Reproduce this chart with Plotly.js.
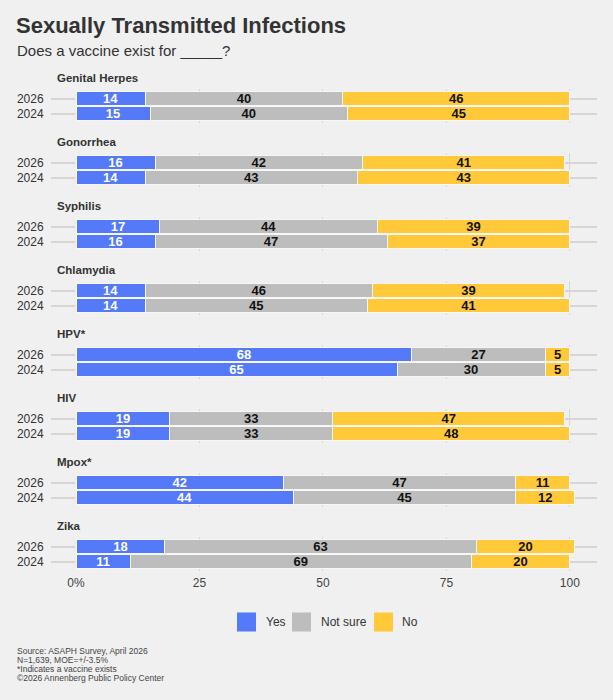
<!DOCTYPE html>
<html>
<head>
<meta charset="utf-8">
<script src="https://cdn.plot.ly/plotly-3.0.1.min.js"></script>
<style>
  html, body { margin: 0; padding: 0; background: #f0f0f0; }
  #chart { width: 613px; height: 700px; }
</style>
</head>
<body>
<div id="chart"></div>
<script>
// Survey answers, percent of respondents
const diseases = ['Genital Herpes', 'Gonorrhea', 'Syphilis', 'Chlamydia', 'HPV*', 'HIV', 'Mpox*', 'Zika'];
const years = ['2024', '2026'];
const yes2026      = [14, 16, 17, 14, 68, 19, 42, 18];
const notSure2026  = [40, 42, 44, 46, 27, 33, 47, 63];
const no2026       = [46, 41, 39, 39,  5, 47, 11, 20];
const yes2024      = [15, 14, 16, 14, 65, 19, 44, 11];
const notSure2024  = [40, 43, 47, 45, 30, 33, 45, 69];
const no2024       = [45, 43, 37, 41,  5, 48, 12, 20];
const seriesNames = ['Yes', 'Not sure', 'No'];
const xTickVals = [0, 25, 50, 75, 100];
const xTickText = ['0%', '25', '50', '75', '100'];
const chartTitle = 'Sexually Transmitted Infections';
const chartSubtitle = 'Does a vaccine exist for _____?';
const footnotes = [
  'Source: ASAPH Survey, April 2026',
  'N=1,639, MOE=+/-3.5%',
  '*Indicates a vaccine exists',
  '\u00A92026 Annenberg Public Policy Center'
];

// Styling
const W = 613, H = 700;
const M = { l: 76, r: 16, t: 0, b: 0 };
const plotW = W - M.l - M.r;
const FONT = 'Liberation Sans, Arial, Helvetica, sans-serif';
const colors = ['#5479f9', '#bdbdbd', '#ffc93a'];
const textColors = ['#ffffff', '#111111', '#111111'];
const gridColor = '#d6d6d6';
const ink = '#333333';

const px2x = p => (p - M.l) / plotW;   // pixel -> paper x
const px2y = p => 1 - p / H;           // pixel -> paper y

const series2026 = [yes2026, notSure2026, no2026];
const series2024 = [yes2024, notSure2024, no2024];

// Each disease gets its own small panel sharing the x axis
const firstCenter = 106, step = 64, halfPanel = 17.25;
const traces = [];
const layout = {
  width: W, height: H, autosize: false,
  margin: M,
  paper_bgcolor: '#f0f0f0', plot_bgcolor: '#f0f0f0',
  barmode: 'stack',
  showlegend: false,
  font: { family: FONT, color: ink },
  title: {
    text: chartTitle,
    font: { family: FONT, size: 22, weight: 'bold', color: ink },
    xref: 'container', x: 16 / W, xanchor: 'left',
    yref: 'container', y: 1 - 25 / H, yanchor: 'middle'
  },
  xaxis: {
    domain: [0, 1], range: [0, 105.5], anchor: 'y8',
    tickvals: xTickVals, ticktext: xTickText,
    showgrid: true, gridcolor: gridColor, gridwidth: 1,
    zeroline: false, showline: false, ticks: '',
    ticklabelstandoff: 3,
    tickfont: { size: 12, color: '#444' },
    fixedrange: true
  },
  annotations: [],
  shapes: []
};

diseases.forEach((name, i) => {
  const suffix = i === 0 ? '' : String(i + 1);
  const c = firstCenter + step * i;
  layout['yaxis' + suffix] = {
    domain: [px2y(c + halfPanel), px2y(c - halfPanel)],
    anchor: 'x',
    type: 'category', categoryorder: 'array', categoryarray: years,
    range: [-0.65, 1.65],
    showgrid: true, gridcolor: gridColor, gridwidth: 1.5,
    ticks: 'outside', ticklen: 24, tickcolor: gridColor, tickwidth: 1.5,
    ticklabelstandoff: 5,
    tickfont: { size: 12, color: ink },
    zeroline: false, showline: false, fixedrange: true
  };
  seriesNames.forEach((s, k) => {
    traces.push({
      type: 'bar', orientation: 'h',
      name: s,
      x: [series2024[k][i], series2026[k][i]],
      y: years,
      xaxis: 'x', yaxis: 'y' + suffix,
      width: 0.93,
      marker: { color: colors[k], line: { color: '#f7f7f7', width: 1 } },
      texttemplate: '%{x}',
      textposition: 'inside', insidetextanchor: 'middle',
      textangle: 0, constraintext: 'none',
      textfont: { family: FONT, size: 13, weight: 'bold', color: textColors[k] },
      hovertemplate: name + ' %{y}<br>' + s + ': %{x}%<extra></extra>'
    });
  });
  layout.annotations.push({
    text: name, xref: 'paper', yref: 'paper',
    x: px2x(55), xanchor: 'left', y: px2y(c - 28), yanchor: 'middle',
    showarrow: false, font: { family: FONT, size: 11.5, weight: 'bold', color: ink }
  });
});

// Subtitle
layout.annotations.push({
  text: chartSubtitle, xref: 'paper', yref: 'paper',
  x: px2x(15), xanchor: 'left', y: px2y(51), yanchor: 'middle',
  showarrow: false, font: { family: FONT, size: 15, color: ink }
});

// Legend: swatches and labels
const legendSwatchX = [237, 292, 374];
const legendLabelX = [264, 319, 400];
const legendY = 622, sw = 19;
seriesNames.forEach((s, k) => {
  layout.shapes.push({
    type: 'rect', xref: 'paper', yref: 'paper',
    x0: px2x(legendSwatchX[k]), x1: px2x(legendSwatchX[k] + sw),
    y0: px2y(legendY + sw / 2), y1: px2y(legendY - sw / 2),
    fillcolor: colors[k], line: { width: 0 }
  });
  layout.annotations.push({
    text: s, xref: 'paper', yref: 'paper',
    x: px2x(legendLabelX[k]), xanchor: 'left', y: px2y(legendY), yanchor: 'middle',
    showarrow: false, font: { family: FONT, size: 12, color: ink }
  });
});

// Footnotes
footnotes.forEach((t, j) => {
  layout.annotations.push({
    text: t, xref: 'paper', yref: 'paper',
    x: px2x(15), xanchor: 'left', y: px2y(650.7 + 9.1 * j), yanchor: 'middle',
    showarrow: false, font: { family: FONT, size: 8.5, color: '#444' }
  });
});

Plotly.newPlot('chart', traces, layout, { displayModeBar: false, responsive: false });
</script>
</body>
</html>
